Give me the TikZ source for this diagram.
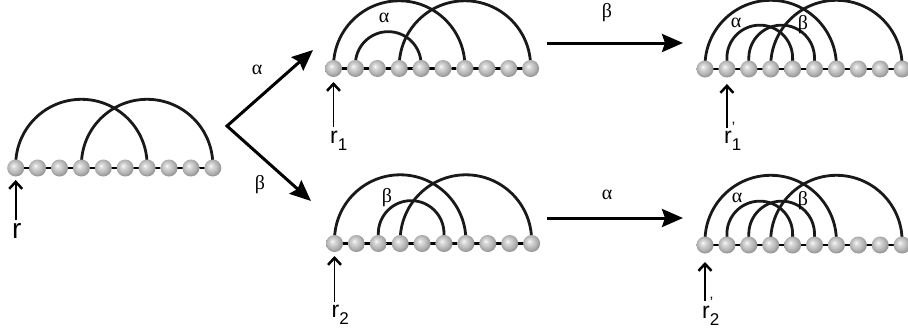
\documentclass[tikz,border=0pt]{standalone}
\usepackage{fontspec}
\setmainfont{Liberation Sans}
\newfontfamily\greekfont{Liberation Serif}
\usetikzlibrary{arrows.meta,calc}
\pgfdeclareradialshading{beadshade}{\pgfpoint{-7bp}{7bp}}{color(0bp)=(white); color(5bp)=(gray!25); color(20bp)=(gray!62); color(27bp)=(gray!85); color(50bp)=(gray!85)}
\tikzset{
  bondline/.style={line width=2.8pt, black!90},
  backbone/.style={line width=2.2pt, black},
  beadball/.style={circle, minimum size=17pt, inner sep=0pt, shade, shading=beadshade},
  bigarrow/.style={line width=3pt, line join=miter},
  bigtip/.tip={Stealth[length=21pt,width=18pt,inset=3pt]},
  ptr/.style={line width=1.6pt, -{Straight Barb[length=7pt,width=13pt,line width=2.5pt]}},
  glabel/.style={font=\greekfont\fontsize{20}{24}\selectfont, inner sep=0pt},
  rlabel/.style={font=\fontsize{23}{26}\selectfont, inner sep=0pt, anchor=base west},
}
\newcommand\mkchain[3]{%
  \foreach \i in {1,...,10} {\coordinate (#1-\i) at ({#2+(\i-1)*21.9},#3);}%
}
\newcommand\mkbond[4]{%
  \draw[bondline] (#1-#2) -- ++(0,-#4) arc[start angle=180,end angle=0,radius={(#3-#2)*10.95pt}] -- (#1-#3);%
}
\newcommand\mkbeads[1]{%
  \draw[backbone] (#1-1) -- (#1-10);
  \foreach \i in {1,...,10} {\node[beadball] (#1-b\i) at (#1-\i) {};}%
}
\newcommand\subtxt[1]{\raisebox{-7pt}{\fontsize{17}{19}\selectfont #1}}
\newcommand\primetxt{\rlap{\raisebox{11pt}{\fontsize{15}{17}\selectfont ’}}}
\begin{document}
\begin{tikzpicture}[x=1pt,y=-1pt]
\useasboundingbox (0,0) rectangle (908,333);
\mkchain{L}{15.7}{168}
\mkchain{A}{333.5}{68.5}
\mkchain{B}{705}{69}
\mkchain{C}{334.5}{243.5}
\mkchain{D}{705}{245}
% bonds
\mkbond{L}{1}{7}{3} \mkbond{L}{4}{10}{3}
\mkbond{A}{1}{7}{2} \mkbond{A}{4}{10}{2} \mkbond{A}{2}{5}{4}
\mkbond{B}{1}{7}{3} \mkbond{B}{4}{10}{3} \mkbond{B}{2}{5}{11} \mkbond{B}{3}{6}{11}
\mkbond{C}{1}{7}{3} \mkbond{C}{4}{10}{3} \mkbond{C}{3}{6}{10}
\mkbond{D}{1}{7}{4} \mkbond{D}{4}{10}{4} \mkbond{D}{2}{5}{11} \mkbond{D}{3}{6}{11}
% beads
\mkbeads{L}
\mkbeads{A}
\mkbeads{B}
\mkbeads{C}
\mkbeads{D}
% greek labels on bonds
\node[glabel] (Aa) at (384,18) {α};
\node[glabel] (Ba) at (736,23) {α};
\node[glabel] (Bb) at (803,25) {β};
\node[glabel] (Cb) at (387,198) {β};
\node[glabel] (Da) at (737,198) {α};
\node[glabel] (Db) at (803,201) {β};
% transition arrows
\coordinate (V) at (227,126);
\coordinate (Vu) at (313,50);
\coordinate (Vd) at (311,201);
\draw[bigarrow,{bigtip}-{bigtip}] (Vu) -- (V) -- (Vd);
\node[glabel] (va) at (257,70) {α};
\node[glabel] (vb) at (260,185) {β};
\coordinate (h1s) at (547,43);
\coordinate (h1e) at (683,43);
\coordinate (h2s) at (547,218);
\coordinate (h2e) at (683,218);
\draw[bigarrow,-{bigtip}] (h1s) -- (h1e);
\draw[bigarrow,-{bigtip}] (h2s) -- (h2e);
\node[glabel] (tb) at (607,13) {β};
\node[glabel] (ba) at (607,195) {α};
% pointers
\coordinate (Lt) at (15.7,180); \coordinate (Ls) at (15.7,220);
\coordinate (At) at (333.5,82); \coordinate (As) at (333.5,127);
\coordinate (Bt) at (726.9,84); \coordinate (Bs) at (726.9,128);
\coordinate (Ct) at (334.5,256); \coordinate (Cs) at (334.5,302);
\coordinate (Dt) at (705,262); \coordinate (Ds) at (705,301);
\draw[ptr] (Ls) -- (Lt);
\draw[ptr] (As) -- (At);
\draw[ptr] (Bs) -- (Bt);
\draw[ptr] (Cs) -- (Ct);
\draw[ptr] (Ds) -- (Dt);
\node[rlabel,font=\fontsize{28}{30}\selectfont] (rL) at (12,238) {r};
\node[rlabel] (rA) at (330,143) {r\subtxt{1}};
\node[rlabel] (rB) at (724,143) {r\primetxt\subtxt{1}};
\node[rlabel] (rC) at (331.5,317) {r\subtxt{2}};
\node[rlabel] (rD) at (702,318) {r\primetxt\subtxt{2}};
\end{tikzpicture}
\end{document}
